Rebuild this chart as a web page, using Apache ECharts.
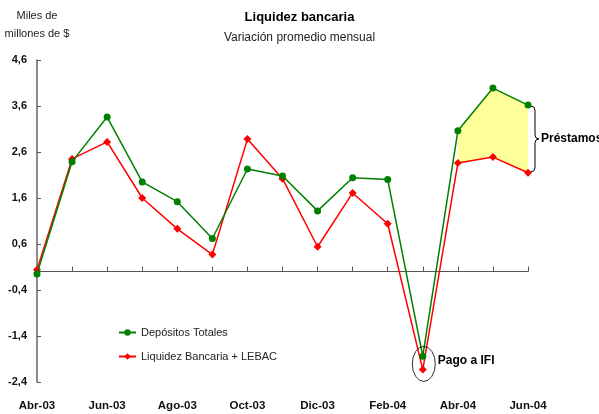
<!DOCTYPE html>
<html>
<head>
<meta charset="utf-8">
<script src="https://cdn.jsdelivr.net/npm/echarts@6/dist/echarts.min.js"></script>
<style>
html, body { margin: 0; padding: 0; background: #fff; }
#chart { width: 599px; height: 414px; }
</style>
</head>
<body>
<div id="chart"></div>
<script>
// datos (miles de millones de $)
const months = ['Abr-03', 'May-03', 'Jun-03', 'Jul-03', 'Ago-03', 'Sep-03', 'Oct-03', 'Nov-03',
  'Dic-03', 'Ene-04', 'Feb-04', 'Mar-04', 'Abr-04', 'May-04', 'Jun-04'];
const depositos = [-0.05, 2.39, 3.36, 1.95, 1.52, 0.72, 2.23, 2.08, 1.32, 2.04, 2.0, -1.84, 3.06, 3.99, 3.62];
const liquidez = [0.04, 2.45, 2.82, 1.6, 0.93, 0.37, 2.88, 2.02, 0.54, 1.71, 1.04, -2.13, 2.36, 2.49, 2.15];
const yTicks = [-2.4, -1.4, -0.4, 0.6, 1.6, 2.6, 3.6, 4.6];
// desde Abr-04 se marca el area de prestamos
const prestamosDesde = 12;
const pagoIFI = 11;

const FONT = 'Liberation Sans';

// base y diferencia para el area amarilla
const areaBase = liquidez.map((v, i) => i >= prestamosDesde ? v : '-');
const areaDiff = depositos.map((v, i) => i >= prestamosDesde ? +(v - liquidez[i]).toFixed(2) : '-');

const chart = echarts.init(document.getElementById('chart'));

const option = {
  animation: false,
  title: {
    text: 'Liquidez bancaria',
    subtext: 'Variación promedio mensual',
    left: 'center',
    top: 6,
    itemGap: 8,
    textStyle: {fontFamily: FONT, fontSize: 13, fontWeight: 'bold', color: '#000'},
    subtextStyle: {fontFamily: FONT, fontSize: 12, color: '#222'}
  },
  legend: {
    orient: 'vertical',
    left: 113,
    top: 322,
    itemGap: 13,
    itemWidth: 17,
    itemHeight: 8,
    data: ['Depósitos Totales', 'Liquidez Bancaria + LEBAC'],
    textStyle: {fontFamily: FONT, fontSize: 11, color: '#222'}
  },
  grid: {left: 37, right: 71, top: 60, bottom: 32, containLabel: false, outerBoundsMode: 'none'},
  xAxis: [
    {
      type: 'category',
      data: months,
      boundaryGap: false,
      axisLine: {show: false, onZero: false},
      axisTick: {show: false},
      axisLabel: {
        interval: 1,
        margin: 18,
        fontFamily: FONT,
        fontSize: 11.5,
        fontWeight: 'bold',
        color: '#111'
      },
      splitLine: {show: false}
    },
    {
      type: 'category',
      data: months,
      boundaryGap: false,
      position: 'bottom',
      axisLine: {onZero: true, lineStyle: {color: '#555', width: 1}},
      axisTick: {inside: true, length: 5, interval: 0, lineStyle: {color: '#555'}},
      axisLabel: {show: false},
      splitLine: {show: false}
    }
  ],
  yAxis: {
    type: 'value',
    min: -2.4,
    max: 4.6,
    name: 'Miles de\nmillones de $',
    nameLocation: 'end',
    nameGap: 17,
    nameTextStyle: {fontFamily: FONT, fontSize: 11, color: '#222', lineHeight: 18, align: 'center'},
    axisLine: {show: true, lineStyle: {color: '#666', width: 1.5}},
    axisTick: {show: true, inside: true, length: 4, customValues: yTicks, lineStyle: {color: '#555'}},
    axisLabel: {
      customValues: yTicks,
      margin: 10,
      fontFamily: FONT,
      fontSize: 11,
      fontWeight: 'bold',
      color: '#111',
      formatter: v => v.toFixed(1).replace('.', ',')
    },
    splitLine: {show: false}
  },
  series: [
    {
      name: 'base',
      type: 'line',
      stack: 'prestamos',
      data: areaBase,
      symbol: 'none',
      lineStyle: {opacity: 0},
      silent: true,
      z: 1
    },
    {
      name: 'Préstamos',
      type: 'line',
      stack: 'prestamos',
      data: areaDiff,
      symbol: 'none',
      lineStyle: {opacity: 0},
      areaStyle: {color: '#ffff99', opacity: 1},
      silent: true,
      z: 1
    },
    {
      name: 'Liquidez Bancaria + LEBAC',
      type: 'line',
      data: liquidez,
      color: '#ff0000',
      symbol: 'diamond',
      symbolSize: 8,
      lineStyle: {width: 1.5},
      z: 3
    },
    {
      name: 'Depósitos Totales',
      type: 'line',
      data: depositos,
      color: '#008000',
      symbol: 'circle',
      symbolSize: 7,
      lineStyle: {width: 1.5},
      z: 4
    }
  ]
};
chart.setOption(option);

// anotaciones: llave de prestamos y elipse de pago a IFI
const last = months.length - 1;
const pTop = chart.convertToPixel({gridIndex: 0}, [months[last], depositos[last]]);
const pBot = chart.convertToPixel({gridIndex: 0}, [months[last], liquidez[last]]);
const bx = pTop[0] + 3;
const y1 = pTop[1] + 1, y2 = pBot[1] - 1, ym = (y1 + y2) / 2;
const line = {stroke: '#000', lineWidth: 1, fill: null};
const curve = (x1, yA, cx, cy, x2, yB) => ({
  type: 'bezierCurve', z: 10,
  shape: {x1: x1, y1: yA, cpx1: cx, cpy1: cy, x2: x2, y2: yB},
  style: line
});
const seg = (x1, yA, x2, yB) => ({
  type: 'line', z: 10,
  shape: {x1: x1, y1: yA, x2: x2, y2: yB},
  style: line
});

const pago = chart.convertToPixel({gridIndex: 0}, [months[pagoIFI], (depositos[pagoIFI] + liquidez[pagoIFI]) / 2]);

chart.setOption({
  graphic: [
    curve(bx, y1, bx + 4, y1, bx + 4, y1 + 4),
    seg(bx + 4, y1 + 4, bx + 4, ym - 4),
    curve(bx + 4, ym - 4, bx + 4, ym, bx + 8, ym),
    curve(bx + 8, ym, bx + 4, ym, bx + 4, ym + 4),
    seg(bx + 4, ym + 4, bx + 4, y2 - 4),
    curve(bx + 4, y2 - 4, bx + 4, y2, bx, y2),
    {
      type: 'text',
      x: bx + 10,
      y: ym,
      style: {text: 'Préstamos', fontFamily: FONT, fontSize: 12, fontWeight: 'bold', fill: '#000', verticalAlign: 'middle'},
      z: 10
    },
    {
      type: 'circle',
      x: pago[0] + 1,
      y: pago[1] + 1,
      scaleX: 11.5 / 17.5,
      shape: {cx: 0, cy: 0, r: 17.5},
      style: {fill: null, stroke: '#000', lineWidth: 1, strokeNoScale: true},
      z: 10
    },
    {
      type: 'text',
      x: pago[0] + 15,
      y: pago[1] - 2,
      style: {text: 'Pago a IFI', fontFamily: FONT, fontSize: 12, fontWeight: 'bold', fill: '#000', verticalAlign: 'middle'},
      z: 10
    }
  ]
});
</script>
</body>
</html>
